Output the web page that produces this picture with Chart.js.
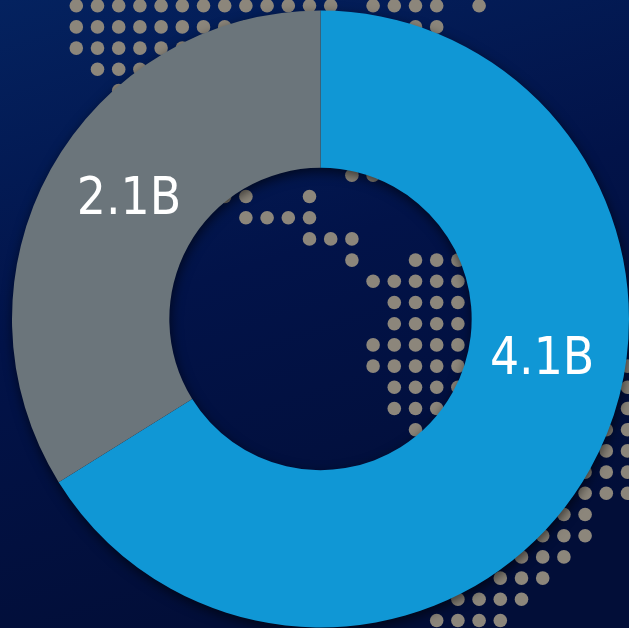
<!DOCTYPE html>
<html lang="en">
<head>
    <meta charset="UTF-8">
    <title>Doughnut</title>
    <script src="https://cdn.jsdelivr.net/npm/chart.js"></script>
    <style>
        html, body { margin: 0; padding: 0; background: #021246; overflow: hidden; }
        .wrap { position: relative; width: 629px; height: 628px; }
        .wrap canvas { position: absolute; left: 0; top: 0; }
        #statsChart { filter: drop-shadow(1px 4px 6px rgba(0, 0, 0, 0.6)); }
    </style>
</head>
<body>
    <div class="wrap">
        <canvas id="backdrop" width="629" height="628"></canvas>
        <canvas id="statsChart" width="629" height="628"></canvas>
    </div>
    <script>
        const categories = ["A", "B"];
        const seriesValues = [4.1, 2.1];
        const valueLabels = ["4.1B", "2.1B"];
        const sliceColors = ["#1097d5", "#6b757b"];

        // decoration behind the ring: [row, first column, last column]
        const dotRuns = [
            [0, 0, 12], [0, 14, 17], [0, 19, 19],
            [1, 0, 8], [1, 14, 17],
            [2, 0, 5], [3, 1, 3], [4, 2, 2],
            [8, 13, 14],
            [9, 7, 8], [9, 11, 11],
            [10, 8, 11],
            [11, 11, 13],
            [12, 13, 13], [12, 16, 18],
            [13, 14, 18],
            [14, 15, 18], [15, 15, 18],
            [16, 14, 18], [17, 14, 18],
            [18, 15, 18], [19, 15, 17], [20, 16, 16],
            [17, 26, 26], [18, 26, 26], [19, 26, 26],
            [20, 25, 26], [21, 25, 26], [22, 24, 26], [23, 24, 26],
            [24, 23, 24], [25, 22, 24], [26, 21, 23], [27, 20, 22],
            [28, 18, 21], [29, 17, 20]
        ];

        const bg = document.getElementById("backdrop").getContext("2d");
        const grad = bg.createLinearGradient(0, 0, 200, 628);
        grad.addColorStop(0, "#04225f");
        grad.addColorStop(0.5, "#021349");
        grad.addColorStop(1, "#020e38");
        bg.fillStyle = grad;
        bg.fillRect(0, 0, 629, 628);
        bg.fillStyle = "#8c867b";
        dotRuns.forEach(([row, from, to]) => {
            for (let col = from; col <= to; col++) {
                bg.beginPath();
                bg.arc(76.3 + col * 21.2, 5.7 + row * 21.2, 6.8, 0, Math.PI * 2);
                bg.fill();
            }
        });

        // label baselines as [angle from 12 o'clock in degrees, radius as share of outer radius]
        const labelSpots = [[103.9, 0.74], [298.7, 0.708]];

        const sliceLabels = {
            id: "sliceLabels",
            afterDatasetsDraw(chart) {
                const { ctx } = chart;
                const arcs = chart.getDatasetMeta(0).data;
                ctx.save();
                ctx.fillStyle = "#ffffff";
                ctx.font = "51px 'DejaVu Sans Condensed', 'DejaVu Sans'";
                ctx.textAlign = "center";
                ctx.textBaseline = "alphabetic";
                arcs.forEach((arc, i) => {
                    const a = labelSpots[i][0] * Math.PI / 180;
                    const r = labelSpots[i][1] * arc.outerRadius;
                    ctx.fillText(valueLabels[i], arc.x + r * Math.sin(a), arc.y - r * Math.cos(a));
                });
                ctx.restore();
            }
        };

        new Chart(document.getElementById("statsChart").getContext("2d"), {
            type: "doughnut",
            data: {
                labels: categories,
                datasets: [{
                    data: seriesValues,
                    backgroundColor: sliceColors,
                    borderWidth: 0
                }]
            },
            options: {
                responsive: false,
                animation: false,
                cutout: "49%",
                layout: { padding: { left: 12, top: 10, right: 0, bottom: 0 } },
                plugins: {
                    legend: { display: false },
                    tooltip: { enabled: false }
                }
            },
            plugins: [sliceLabels]
        });
    </script>
</body>
</html>
